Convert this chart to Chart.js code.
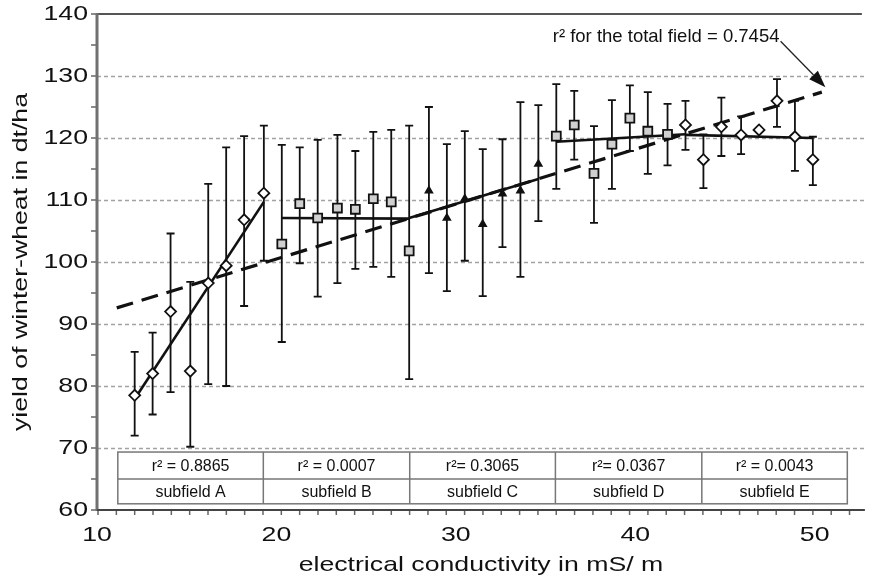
<!DOCTYPE html>
<html><head><meta charset="utf-8">
<script src="https://cdn.jsdelivr.net/npm/chart.js@4.4.1/dist/chart.umd.min.js"></script>
<style>html,body{margin:0;padding:0;background:#fff;overflow:hidden;} canvas{display:block;}</style>
</head><body><canvas id="c" width="873" height="582" style="width:873px;height:582px"></canvas>
<script>
// ---- data ----
const xValues = [12.1,13.1,14.1,15.2,16.2,17.2,18.2,19.3,
                 20.3,21.3,22.3,23.4,24.4,25.4,26.4,27.4,
                 28.5,29.5,30.5,31.5,32.6,33.6,34.6,
                 35.6,36.6,37.7,38.7,39.7,40.7,41.8,
                 42.8,43.8,44.8,45.9,46.9,47.9,48.9,49.9];
const yieldMean = [78.5,82.0,92.0,82.4,96.6,99.4,106.8,111.1,
                   102.9,109.4,107.1,108.7,108.5,110.2,109.7,101.8,
                   111.5,107.1,110.2,106.1,111.0,111.5,115.8,
                   120.3,122.1,114.3,119.0,123.2,121.1,120.6,
                   122.1,116.5,121.8,120.5,121.3,126.0,120.2,116.5];
const yieldLow  = [72.0,75.4,79.0,70.2,80.3,80.0,92.9,100.2,
                   87.1,99.8,94.4,96.6,98.9,99.2,97.6,81.1,
                   98.2,95.3,100.2,94.5,102.4,97.6,106.6,
                   111.8,116.5,106.3,111.8,117.9,114.2,115.6,
                   118.1,111.9,117.1,117.4,121.3,121.8,114.7,112.4];
const yieldHigh = [85.5,88.6,104.6,96.8,112.6,118.5,120.3,122.0,
                   118.9,118.5,119.7,120.5,117.9,121.0,121.3,122.0,
                   125.0,119.0,121.1,118.2,119.8,125.8,125.3,
                   128.7,127.6,121.9,126.1,128.5,127.4,125.5,
                   126.0,120.6,126.5,123.5,121.3,129.5,126.0,120.2];
const subfieldNames = ['subfield A','subfield B','subfield C','subfield D','subfield E'];
const subfieldR2 = ['r\u00B2 = 0.8865','r\u00B2 = 0.0007','r\u00B2= 0.3065','r\u00B2= 0.0367','r\u00B2 = 0.0043'];
const subfieldStart = [0,8,16,23,30,38];
const fitA = [[12.1,77.9],[19.3,109.7]];
const fitB = [[20.3,107.1],[27.4,107.0]];
const fitC = [[27.4,107.1],[34.6,113.4]];
const fitD = [[35.6,119.4],[42.8,120.6]];
const fitE = [[42.8,120.5],[49.9,120.0]];
const fitTotal = [[11.1,92.6],[50.4,127.4]];
const totalLabel = 'r\u00B2 for the total field = 0.7454';
const xTicks = [10,20,30,40,50];
const yTicks = [60,70,80,90,100,110,120,130,140];

// ---- chart ----
const FONT = 'Liberation Sans, Arial, Helvetica, sans-serif';
const canvas = document.getElementById('c');
const ctx0 = canvas.getContext('2d');
// axis text in the reference uses a wide face: stretch glyphs along the text direction
const baseFill = CanvasRenderingContext2D.prototype.fillText;
ctx0.__stretch = 1;
ctx0.fillText = function(t, px, py, mw){
  if (this.__stretch !== 1) {
    this.save(); this.translate(px, py); this.scale(this.__stretch, 1);
    baseFill.call(this, t, 0, 0); this.restore();
  } else if (mw === undefined) baseFill.call(this, t, px, py);
  else baseFill.call(this, t, px, py, mw);
};

const pts = (a,b) => xValues.slice(a,b).map((x,i)=>({x, y: yieldMean[a+i]}));
const line = arr => arr.map(p=>({x:p[0], y:p[1]}));
const markerStyles = [
  {pointStyle:'rectRot', radius:5.5, bg:'#ffffff'},
  {pointStyle:'rect', radius:6.3, bg:'#d0d0d0'},
  {pointStyle:'triangle', radius:3.8, bg:'#111111'},
  {pointStyle:'rect', radius:6.3, bg:'#d0d0d0'},
  {pointStyle:'rectRot', radius:5.5, bg:'#ffffff'}
];
const datasets = [];
for (let g=0; g<5; g++) {
  const s = markerStyles[g];
  datasets.push({label:subfieldNames[g], data:pts(subfieldStart[g], subfieldStart[g+1]), showLine:false,
    pointStyle:s.pointStyle, pointRadius:s.radius, pointBackgroundColor:s.bg,
    pointBorderColor:'#111', pointBorderWidth:1.8});
}
[fitA,fitB,fitC,fitD,fitE].forEach((f,i)=>datasets.push({label:'fit '+subfieldNames[i], data:line(f), showLine:true,
  borderColor:'#111', borderWidth:2.6, pointRadius:0}));
datasets.push({label:'total fit', data:line(fitTotal), showLine:true, borderColor:'#111', borderWidth:3.2,
  borderDash:[17,9], pointRadius:0});

const decor = {
  id:'decor',
  beforeDraw(chart){ chart.ctx.__stretch = 1.27; },
  beforeDatasetsDraw(chart){
    const {ctx, chartArea:a, scales:{x,y}} = chart;
    ctx.__stretch = 1;
    ctx.save();
    // dashed grid
    ctx.strokeStyle = '#a2a2a2'; ctx.lineWidth = 1.6; ctx.setLineDash([4,3]);
    yTicks.forEach(v=>{ if (v===60||v===140) return; const py=Math.round(y.getPixelForValue(v))+0.5;
      ctx.beginPath(); ctx.moveTo(a.left, py); ctx.lineTo(a.right, py); ctx.stroke(); });
    ctx.setLineDash([]);
    // top frame
    ctx.strokeStyle = '#555'; ctx.lineWidth = 2;
    const pt = y.getPixelForValue(140);
    ctx.beginPath(); ctx.moveTo(a.left, pt); ctx.lineTo(a.right-3, pt); ctx.stroke();
    // y ticks
    ctx.strokeStyle = '#666'; ctx.lineWidth = 1.5;
    for (let v=60; v<=140; v+=5) { const py=y.getPixelForValue(v);
      ctx.beginPath(); ctx.moveTo(a.left-6, py); ctx.lineTo(a.left, py); ctx.stroke(); }
    // x minor ticks
    const step = (xValues[xValues.length-1]-xValues[0])/(xValues.length-1);
    for (let k=-2; k<=40; k++) { const v = xValues[0]+k*step; if (v<x.min||v>x.max) continue;
      const px=x.getPixelForValue(v);
      ctx.beginPath(); ctx.moveTo(px, a.bottom); ctx.lineTo(px, a.bottom+5); ctx.stroke(); }
    // axes
    ctx.strokeStyle = '#707070'; ctx.lineWidth = 3;
    ctx.beginPath(); ctx.moveTo(a.left, a.top-1); ctx.lineTo(a.left, a.bottom+1); ctx.stroke();
    ctx.strokeStyle = '#444'; ctx.lineWidth = 2;
    ctx.beginPath(); ctx.moveTo(a.left, a.bottom); ctx.lineTo(a.right, a.bottom); ctx.stroke();
    // error bars
    ctx.strokeStyle = '#111'; ctx.lineWidth = 1.8;
    xValues.forEach((v,i)=>{ if (yieldLow[i]===yieldHigh[i]) return;
      const px=x.getPixelForValue(v), pl=y.getPixelForValue(yieldLow[i]), ph=y.getPixelForValue(yieldHigh[i]);
      ctx.beginPath(); ctx.moveTo(px, pl); ctx.lineTo(px, ph);
      ctx.moveTo(px-4, pl); ctx.lineTo(px+4, pl); ctx.moveTo(px-4, ph); ctx.lineTo(px+4, ph); ctx.stroke(); });
    ctx.restore();
  },
  afterDatasetsDraw(chart){
    const {ctx, scales:{x,y}} = chart;
    ctx.__stretch = 1;
    ctx.save();
    // table of subfields
    const edges = [11.16,19.27,27.43,35.55,43.71,51.82].map(v=>x.getPixelForValue(v));
    const rows = [69.35,65.0,61.0].map(v=>y.getPixelForValue(v));
    ctx.fillStyle = '#fff';
    ctx.fillRect(edges[0], rows[0], edges[5]-edges[0], rows[2]-rows[0]);
    ctx.strokeStyle = '#777'; ctx.lineWidth = 1.5;
    ctx.strokeRect(edges[0], rows[0], edges[5]-edges[0], rows[2]-rows[0]);
    ctx.beginPath(); ctx.moveTo(edges[0], rows[1]); ctx.lineTo(edges[5], rows[1]);
    for (let i=1;i<5;i++){ ctx.moveTo(edges[i], rows[0]); ctx.lineTo(edges[i], rows[2]); }
    ctx.stroke();
    ctx.fillStyle = '#111'; ctx.font = '16px '+FONT; ctx.textAlign='center'; ctx.textBaseline='middle';
    for (let i=0;i<5;i++){ const cx=(edges[i]+edges[i+1])/2;
      ctx.fillText(subfieldR2[i], cx, (rows[0]+rows[1])/2+1);
      ctx.fillText(subfieldNames[i], cx, (rows[1]+rows[2])/2+1); }
    // total-field annotation
    ctx.font = '18.5px '+FONT; ctx.textAlign='left'; ctx.textBaseline='middle';
    ctx.fillText(totalLabel, x.getPixelForValue(35.4), y.getPixelForValue(136.3));
    const x1=x.getPixelForValue(48.1), y1=y.getPixelForValue(135.6), x2=x.getPixelForValue(50.6), y2=y.getPixelForValue(128.2);
    const ang = Math.atan2(y2-y1, x2-x1), L=17, W=6;
    const bx = x2-L*Math.cos(ang), by = y2-L*Math.sin(ang);
    ctx.strokeStyle='#222'; ctx.lineWidth=1.3;
    ctx.beginPath(); ctx.moveTo(x1,y1); ctx.lineTo(bx,by); ctx.stroke();
    ctx.beginPath(); ctx.moveTo(x2,y2);
    ctx.lineTo(bx+W*Math.sin(ang), by-W*Math.cos(ang)); ctx.lineTo(bx-W*Math.sin(ang), by+W*Math.cos(ang));
    ctx.closePath(); ctx.fill();
    ctx.restore();
  }
};

const zeroPad = s => { s.paddingLeft = 0; s.paddingRight = 0; s.paddingTop = 0; s.paddingBottom = 0; };
const chart = new Chart(canvas, {
  type:'scatter',
  data:{datasets},
  options:{
    responsive:false, maintainAspectRatio:false, animation:false, devicePixelRatio:1,
    layout:{padding:{top:14,right:0,bottom:0,left:0}},
    plugins:{legend:{display:false}, tooltip:{enabled:false}},
    scales:{
      x:{type:'linear', min:10, max:52.8,
         afterBuildTicks:s=>{ s.ticks = xTicks.map(v=>({value:v})); },
         afterFit:s=>{ s.height = 72; zeroPad(s); },
         grid:{display:false, drawTicks:false}, border:{display:false},
         ticks:{color:'#111', font:{family:FONT, size:21}, padding:13, maxRotation:0, autoSkip:false},
         title:{display:true, text:'electrical conductivity in mS/ m', color:'#111',
                font:{family:FONT, size:21}, padding:{top:0,bottom:4}}},
      y:{type:'linear', min:60, max:140,
         afterBuildTicks:s=>{ s.ticks = yTicks.map(v=>({value:v})); },
         afterFit:s=>{ s.width = 97; zeroPad(s); },
         grid:{display:false, drawTicks:false}, border:{display:false},
         ticks:{color:'#111', font:{family:FONT, size:21}, padding:9},
         title:{display:true, text:'yield of winter-wheat in dt/ha', color:'#111',
                font:{family:FONT, size:21}, padding:{top:9,bottom:0}}}
    }
  },
  plugins:[decor]
});
// make the plot area reach the right edge of the canvas, as in the reference
const gap = chart.width - chart.chartArea.right;
if (gap > 0.5) { chart.options.layout.padding.right = -gap; chart.update(); }
</script></body></html>
